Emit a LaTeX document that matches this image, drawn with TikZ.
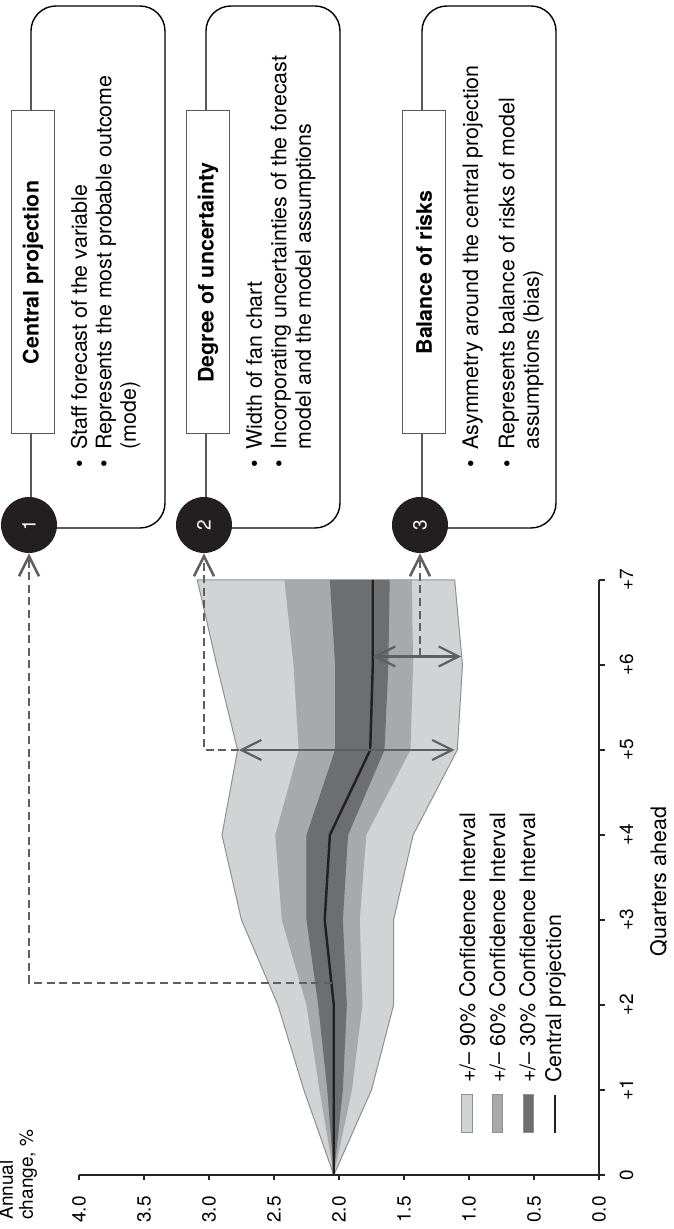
\documentclass[tikz,border=0pt]{standalone}
\usepackage{fontspec}
\setmainfont{TeX Gyre Heros}
\usetikzlibrary{arrows.meta}

\definecolor{fanlight}{HTML}{D1D3D4}
\definecolor{fanmid}{HTML}{A7A9AC}
\definecolor{fandark}{HTML}{6D6E71}
\definecolor{inkblack}{HTML}{231F20}
\definecolor{guidegray}{HTML}{5E5F61}
\definecolor{edgegray}{HTML}{8E9093}

\newcommand{\figfont}{\fontsize{10.7bp}{12.2bp}\selectfont}
\newcommand{\tickfont}{\fontsize{9.5bp}{10bp}\selectfont}

\tikzset{
  barb/.tip={Straight Barb[length=10bp,width=10bp]},
  axisline/.style={line width=0.6bp, black!85},
  fanedge/.style={draw=edgegray, line width=0.5bp},
  centralline/.style={line width=1.2bp, inkblack},
  span/.style={line width=1.1bp, guidegray, barb-barb},
  guide/.style={line width=1.3bp, guidegray, dash pattern=on 4bp off 2.3bp},
  frame/.style={line width=0.7bp, rounded corners=12.5bp},
  hdr/.style={draw=black!65, line width=0.5bp, fill=white, minimum width=161.5bp,
    minimum height=21.5bp, inner sep=0pt, font=\figfont\bfseries},
  numdot/.style={circle, fill=inkblack, text=white, minimum size=28bp, inner sep=0pt, font=\tickfont},
  body/.style={inner sep=0pt, anchor=base west},
  swatch/.style={draw=edgegray, line width=0.5bp, minimum width=19bp, minimum height=5bp, inner sep=0pt},
  keytext/.style={anchor=base west, inner sep=0pt},
  ticklabel/.style={font=\tickfont, inner sep=0pt}
}

\begin{document}
\begin{tikzpicture}[x=0.5bp, y=0.5bp, rotate=90, transform shape, font=\figfont]
\useasboundingbox (0,0) rectangle (1229,673);

% fan chart, quarters ahead vs annual change
\begin{scope}[shift={(54,74)}, x=42.5bp, y=65bp]
  \filldraw[fill=fanlight, fanedge] (0,2.04) -- (1,2.27) -- (2,2.47) -- (3,2.75) -- (4,2.90) -- (5,2.78) -- (6,2.94) -- (7,3.09)
    -- (7,1.11) -- (6,1.05) -- (5,1.09) -- (4,1.43) -- (3,1.58) -- (2,1.58) -- (1,1.75) -- cycle;
  \fill[fanmid] (0,2.04) -- (1,2.15) -- (2,2.25) -- (3,2.44) -- (4,2.49) -- (5,2.31) -- (6,2.35) -- (7,2.42)
    -- (7,1.44) -- (6,1.43) -- (5,1.45) -- (4,1.79) -- (3,1.84) -- (2,1.82) -- (1,1.90) -- cycle;
  \fill[fandark] (0,2.04) -- (1,2.09) -- (2,2.16) -- (3,2.25) -- (4,2.25) -- (5,2.03) -- (6,2.03) -- (7,2.07)
    -- (7,1.61) -- (6,1.62) -- (5,1.65) -- (4,1.93) -- (3,1.97) -- (2,1.94) -- (1,1.97) -- cycle;
  \draw[centralline] (0,2.04) -- (1,2.04) -- (2,2.04) -- (3,2.11) -- (4,2.07) -- (5,1.76) -- (6,1.74) -- (7,1.74);

  % axes
  \draw[axisline] (0,4) -- (0,0) -- (7,0);
  \foreach \v [count=\i] in {0.0,0.5,1.0,1.5,2.0,2.5,3.0,3.5,4.0} {
    \draw[axisline] (0,\v) -- ++(-2.5bp,0);
    \node[ticklabel, anchor=east] (vlab\i) at ([xshift=-10.5bp]0,\v) {\v};
  }
  \foreach \q in {0,...,7} {
    \draw[axisline] (\q,0) -- ++(0,-3bp);
    \node[ticklabel, anchor=base] (qlab\q) at ([yshift=-17bp]\q,0) {\ifnum\q=0 0\else+\q\fi};
  }
  \node[anchor=base] (qtitle) at ([xshift=-2bp, yshift=-33.5bp]3.5,0) {Quarters ahead};

  % marks for the callouts
  \coordinate (cpmark) at (2.26,2.055);
  \coordinate (wtop) at (5,2.77);
  \coordinate (wbot) at (5,1.11);
  \coordinate (rtop) at (6.1,1.74);
  \coordinate (rbot) at (6.1,1.06);
  \draw[span] (wtop) -- (wbot);
  \draw[span] (rtop) -- (rbot);
\end{scope}

\node[ticklabel, align=left, anchor=base west] (unit) at (9,640) {Annual\\change, \%};

% legend
\node[swatch, fill=fanlight] (key90) at (115,206) {};
\node[keytext] (key90txt) at (146,198) {+/– 90\% Confidence Interval};
\node[swatch, fill=fanmid] (key60) at (115,175.5) {};
\node[keytext] (key60txt) at (146,168) {+/– 60\% Confidence Interval};
\node[swatch, fill=fandark] (key30) at (115,145) {};
\node[keytext] (key30txt) at (146,138) {+/– 30\% Confidence Interval};
\coordinate (keyline a) at (96,118);
\coordinate (keyline b) at (134,118);
\draw[centralline] (keyline a) -- (keyline b);
\node[keytext] (keylinetxt) at (146,112) {Central projection};

% callout boxes
\foreach \k/\ytop/\head in {1/642/Central projection, 2/467/Degree of uncertainty, 3/251/Balance of risks} {
  \draw[frame] (701,\ytop-134) rectangle (1223,\ytop);
  \node[hdr] (head\k) at (956.5,\ytop-2) {\head};
  \node[numdot] (num\k) at (704,\ytop+2) {\k};
}

\node[body] (list1) at (761,586) {\begin{tabular}[t]{@{}l@{\hspace{5.3bp}}l@{}}
  \textbullet & Staff forecast of the variable\\
  \textbullet & Represents the most probable outcome\\
  & (mode)
\end{tabular}};
\node[body] (list2) at (761,411) {\begin{tabular}[t]{@{}l@{\hspace{5.3bp}}l@{}}
  \textbullet & Width of fan chart\\
  \textbullet & Incorporating uncertainties of the forecast\\
  & model and the model assumptions
\end{tabular}};
\node[body] (list3) at (761,195) {\begin{tabular}[t]{@{}l@{\hspace{5.3bp}}l@{}}
  \textbullet & Asymmetry around the central projection\\[6bp]
  \textbullet & Represents balance of risks of model\\
  & assumptions (bias)
\end{tabular}};

% dashed guides to the numbers
\draw[guide, -barb] (cpmark) |- (num1);
\draw[guide, -barb] (wtop) |- (num2);
\draw[guide, -barb] (rtop |- num3) -- (num3);
\end{tikzpicture}
\end{document}
